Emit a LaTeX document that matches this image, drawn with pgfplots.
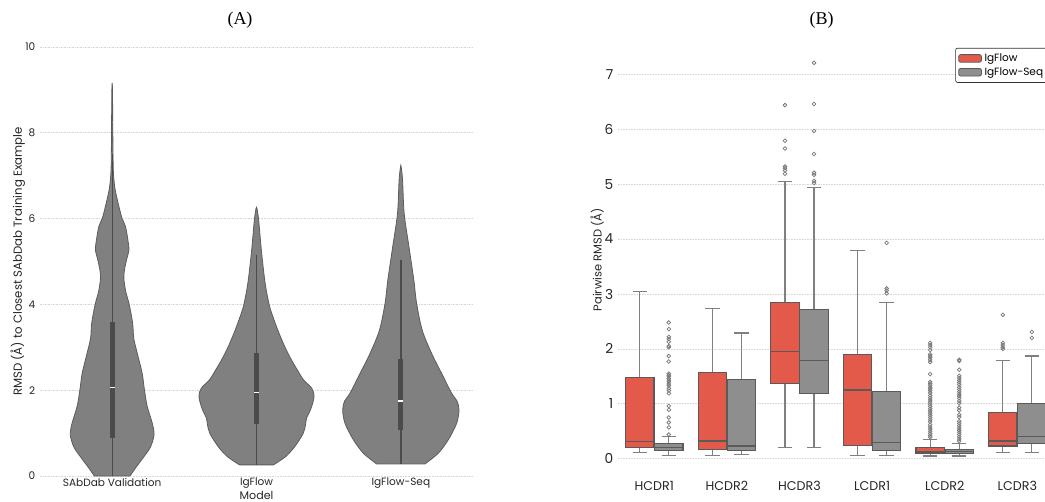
\documentclass[border=0pt]{standalone}
\usepackage{fontspec}
\setmainfont{Poppins}
\newfontfamily\titlefont{Liberation Serif}
\usepackage{pgfplots}
\pgfplotsset{compat=1.18}
\usepgfplotslibrary{statistics}
\definecolor{igred}{HTML}{E45A4A}
\definecolor{iggray}{HTML}{8E8E8E}
\definecolor{edgecol}{HTML}{5A5A5A}
\definecolor{whiskcol}{HTML}{808080}
\definecolor{outcol}{HTML}{7A7A7A}
\definecolor{violfill}{HTML}{808080}
\definecolor{violedge}{HTML}{5C5C5C}
\definecolor{innerbox}{HTML}{4B4B4B}
\definecolor{gridcol}{HTML}{D6D6D6}
\definecolor{txt}{HTML}{262626}

\pgfplotsset{
  common/.style={
    scale only axis,
    anchor=south west,
    axis line style={draw=none},
    major tick length=0pt,
    ymajorgrids,
    grid style={gridcol, line width=0.5pt, dash pattern=on 1.2pt off 0.8pt},
    /pgf/number format/assume math mode=true,
    tick label style={text=txt},
    label style={text=txt},
  },
  /pgfplots/boxplot/every box/.style={draw=edgecol, line width=0.85pt},
  /pgfplots/boxplot/every whisker/.style={draw=whiskcol, line width=0.85pt},
  /pgfplots/boxplot/every median/.style={draw=edgecol, line width=1pt},
  redbox/.style={fill=igred, draw=edgecol, mark=o, mark size=1.4pt,
    mark options={draw=outcol, line width=0.55pt, fill=none}},
  graybox/.style={fill=iggray, draw=edgecol, mark=o, mark size=1.4pt,
    mark options={draw=outcol, line width=0.55pt, fill=none}},
  violin/.style={fill=violfill, draw=violedge, line width=0.6pt, smooth, tension=0.5},
  innerwhisk/.style={innerbox, line width=1pt},
  innerbx/.style={innerbox, line width=3.75pt},
  median/.style={only marks, mark=-, mark size=1.9pt, mark options={white, line width=0.9pt}},
}

\begin{document}
\begin{tikzpicture}
\path[use as bounding box] (0pt,0pt) rectangle (783.75pt,375.75pt);
\node[font=\titlefont\fontsize{13.5}{15}\selectfont] at (180pt,360.75pt) {(A)};
\node[font=\titlefont\fontsize{13.5}{15}\selectfont] at (616.3pt,360.75pt) {(B)};

% ---------------- Panel A: violins ----------------
\begin{axis}[common,
  at={(30pt,18.75pt)}, width=324.75pt, height=321.75pt,
  xmin=-0.5, xmax=2.5, ymin=0, ymax=10,
  xtick={0,1,2}, xticklabels={SAbDab Validation, IgFlow, IgFlow-Seq},
  ytick={0,2,4,6,8,10},
  tick label style={font=\fontsize{7.9}{9}\selectfont},
  xticklabel style={yshift=2pt},
  xlabel={Model}, ylabel={RMSD (Å) to Closest SAbDab Training Example},
  xlabel style={font=\fontsize{8.3}{10}\selectfont, at={(axis description cs:0.5,-0.0443)}, anchor=center},
  ylabel style={font=\fontsize{8.8}{10}\selectfont, at={(axis description cs:-0.051,0.5)}, anchor=center},
]
% SAbDab Validation (x = 0)
\addplot[violin] coordinates {
 (0.123,0) (0.169,0.22) (0.220,0.45) (0.266,0.68) (0.290,0.96) (0.278,1.23)
 (0.243,1.62) (0.224,2.0) (0.208,2.39) (0.180,2.78) (0.150,3.2) (0.142,3.56) (0.118,4.0)
 (0.094,4.3) (0.081,4.6) (0.085,4.8) (0.099,5.03) (0.116,5.27) (0.109,5.5)
 (0.092,5.82) (0.069,6.0) (0.047,6.28) (0.021,6.67) (0.010,7.0) (0.006,7.44) (0.002,9.0)
 (-0.002,9.0) (-0.006,7.44) (-0.010,7.0) (-0.021,6.67) (-0.047,6.28) (-0.069,6.0) (-0.092,5.82)
 (-0.109,5.5) (-0.116,5.27) (-0.099,5.03) (-0.085,4.8) (-0.081,4.6) (-0.094,4.3)
 (-0.118,4.0) (-0.142,3.56) (-0.150,3.2) (-0.180,2.78) (-0.208,2.39) (-0.224,2.0) (-0.243,1.62)
 (-0.278,1.23) (-0.290,0.96) (-0.266,0.68) (-0.220,0.45) (-0.169,0.22) (-0.123,0)
} -- cycle;
\addplot[innerwhisk] coordinates {(0,0) (0,7.5)};
\addplot[innerbx] coordinates {(0,0.88) (0,3.60)};
\addplot[median] coordinates {(0,2.06)};

% IgFlow (x = 1)
\addplot[violin] coordinates {
 (1.118,0.26) (1.201,0.45) (1.264,0.68) (1.323,0.99) (1.340,1.2) (1.347,1.35)
 (1.375,1.55) (1.399,1.85) (1.382,2.05) (1.326,2.24) (1.278,2.5) (1.243,2.70)
 (1.198,3.0) (1.156,3.33) (1.115,3.7) (1.088,3.99) (1.060,4.49) (1.037,5.15)
 (1.023,5.66) (1.014,6.0) (1.003,6.24)
 (0.997,6.24) (0.986,6.0) (0.977,5.66) (0.963,5.15) (0.940,4.49) (0.912,3.99)
 (0.885,3.7) (0.844,3.33) (0.802,3.0) (0.757,2.70) (0.722,2.5) (0.674,2.24)
 (0.618,2.05) (0.601,1.85) (0.625,1.55) (0.653,1.35) (0.660,1.2) (0.677,0.99)
 (0.736,0.68) (0.799,0.45) (0.882,0.26)
} -- cycle;
\addplot[innerwhisk] coordinates {(1,0.26) (1,5.15)};
\addplot[innerbx] coordinates {(1,1.21) (1,2.86)};
\addplot[median] coordinates {(1,1.94)};

% IgFlow-Seq (x = 2)
\addplot[violin] coordinates {
 (2.167,0.28) (2.259,0.53) (2.328,0.84) (2.387,1.23) (2.403,1.54) (2.389,1.75)
 (2.352,1.93) (2.283,2.39) (2.213,2.86) (2.148,3.40) (2.109,4.03) (2.090,4.57)
 (2.056,5.35) (2.023,6.12) (2.012,6.90) (2.002,7.21)
 (1.998,7.21) (1.988,6.90) (1.977,6.12) (1.944,5.35) (1.910,4.57) (1.891,4.03)
 (1.852,3.40) (1.787,2.86) (1.717,2.39) (1.648,1.93) (1.611,1.75) (1.597,1.54)
 (1.613,1.23) (1.672,0.84) (1.741,0.53) (1.833,0.28)
} -- cycle;
\addplot[innerwhisk] coordinates {(2,0.28) (2,5.03)};
\addplot[innerbx] coordinates {(2,1.07) (2,2.73)};
\addplot[median] coordinates {(2,1.75)};
\end{axis}

% ---------------- Panel B: box plots ----------------
\begin{axis}[common,
  at={(463.5pt,18.15pt)}, width=326.7pt, height=325.3pt,
  xmin=-0.5, xmax=5.5, ymin=-0.33, ymax=7.57,
  xtick={0,1,2,3,4,5}, xticklabels={HCDR1,HCDR2,HCDR3,LCDR1,LCDR2,LCDR3},
  ytick={0,1,2,3,4,5,6,7},
  yticklabel style={font=\fontsize{10.3}{12}\selectfont},
  xticklabel style={font=\fontsize{9.5}{11}\selectfont},
  ylabel={Pairwise RMSD (Å)},
  ylabel style={font=\fontsize{8.6}{10}\selectfont, at={(axis description cs:-0.048,0.5)}, anchor=center},
  boxplot/draw direction=y,
  boxplot/box extend=0.39, boxplot/whisker extend=0.2,
  legend style={at={(axis description cs:0.989,0.989)}, anchor=north east,
    font=\fontsize{7.9}{9.5}\selectfont, draw=black!80, line width=0.5pt,
    rounded corners=1.5pt, row sep=-1pt, inner sep=2pt},
  legend cell align=left,
]
% HCDR1
\addplot[redbox, forget plot, boxplot prepared={lower whisker=0.11, lower quartile=0.21, median=0.31, upper quartile=1.48, upper whisker=3.04, draw position=-0.2}] coordinates {};
\addplot[graybox, forget plot, boxplot prepared={lower whisker=0.06, lower quartile=0.15, median=0.20, upper quartile=0.27, upper whisker=0.41, draw position=0.2}] coordinates {
 (0,2.48) (0,2.36) (0,2.22) (0,2.18) (0,2.13) (0,2.05) (0,2.03) (0,1.87) (0,1.77)
 (0,1.55) (0,1.52) (0,1.50) (0,1.46) (0,1.43) (0,1.40) (0,1.36) (0,1.33) (0,1.28)
 (0,1.24) (0,1.19) (0,0.96) (0,0.89) (0,0.75) (0,0.66) (0,0.57) (0,0.44)};
% HCDR2
\addplot[redbox, forget plot, boxplot prepared={lower whisker=0.06, lower quartile=0.17, median=0.32, upper quartile=1.57, upper whisker=2.73, draw position=0.8}] coordinates {};
\addplot[graybox, forget plot, boxplot prepared={lower whisker=0.08, lower quartile=0.15, median=0.23, upper quartile=1.45, upper whisker=2.29, draw position=1.2}] coordinates {};
% HCDR3
\addplot[redbox, forget plot, boxplot prepared={lower whisker=0.20, lower quartile=1.37, median=1.95, upper quartile=2.84, upper whisker=5.05, draw position=1.8}] coordinates {
 (0,6.44) (0,5.79) (0,5.65) (0,5.32) (0,5.29) (0,5.25) (0,5.19)};
\addplot[graybox, forget plot, boxplot prepared={lower whisker=0.21, lower quartile=1.19, median=1.79, upper quartile=2.71, upper whisker=4.94, draw position=2.2}] coordinates {
 (0,7.21) (0,6.46) (0,5.97) (0,5.55) (0,5.21) (0,5.17) (0,5.06) (0,5.02)};
% LCDR1
\addplot[redbox, forget plot, boxplot prepared={lower whisker=0.06, lower quartile=0.24, median=1.25, upper quartile=1.90, upper whisker=3.79, draw position=2.8}] coordinates {};
\addplot[graybox, forget plot, boxplot prepared={lower whisker=0.06, lower quartile=0.15, median=0.29, upper quartile=1.22, upper whisker=2.84, draw position=3.2}] coordinates {
 (0,3.93) (0,3.10) (0,3.06) (0,3.01)};
% LCDR2
\addplot[redbox, forget plot, boxplot prepared={lower whisker=0.05, lower quartile=0.09, median=0.12, upper quartile=0.21, upper whisker=0.35, draw position=3.8}] coordinates {
 (0,2.11) (0,2.07) (0,2.03) (0,1.98) (0,1.90) (0,1.87) (0,1.84) (0,1.80) (0,1.76)
 (0,1.54) (0,1.40) (0,1.37) (0,1.34) (0,1.30) (0,1.27) (0,1.24) (0,1.20) (0,1.15)
 (0,1.11) (0,1.07) (0,1.03) (0,0.99) (0,0.95) (0,0.91) (0,0.87) (0,0.83) (0,0.79)
 (0,0.75) (0,0.71) (0,0.67) (0,0.62) (0,0.58) (0,0.54) (0,0.50) (0,0.46) (0,0.42) (0,0.39)};
\addplot[graybox, forget plot, boxplot prepared={lower whisker=0.05, lower quartile=0.10, median=0.13, upper quartile=0.16, upper whisker=0.27, draw position=4.2}] coordinates {
 (0,1.80) (0,1.78) (0,1.62) (0,1.51) (0,1.47) (0,1.43) (0,1.39) (0,1.35) (0,1.30)
 (0,1.26) (0,1.22) (0,1.18) (0,1.14) (0,1.10) (0,1.05) (0,1.01) (0,0.93) (0,0.88)
 (0,0.80) (0,0.76) (0,0.68) (0,0.64) (0,0.60) (0,0.56) (0,0.52) (0,0.48) (0,0.44)
 (0,0.40) (0,0.36) (0,0.32)};
% LCDR3
\addplot[redbox, forget plot, boxplot prepared={lower whisker=0.11, lower quartile=0.23, median=0.32, upper quartile=0.84, upper whisker=1.79, draw position=4.8}] coordinates {
 (0,2.62) (0,2.11) (0,2.07) (0,2.03) (0,2.00)};
\addplot[graybox, forget plot, boxplot prepared={lower whisker=0.11, lower quartile=0.28, median=0.41, upper quartile=1.01, upper whisker=1.87, draw position=5.2}] coordinates {
 (0,2.31) (0,2.20)};

\addlegendimage{area legend, fill=igred, draw=edgecol, line width=0.6pt}
\addlegendentry{IgFlow}
\addlegendimage{area legend, fill=iggray, draw=edgecol, line width=0.6pt}
\addlegendentry{IgFlow-Seq}
\end{axis}
\end{tikzpicture}
\end{document}
